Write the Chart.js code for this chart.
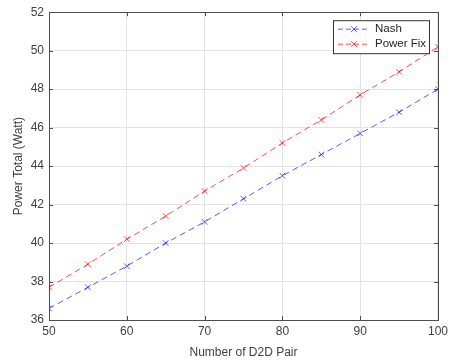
<!DOCTYPE html>
<html>
<head>
<meta charset="utf-8">
<script src="https://cdn.jsdelivr.net/npm/chart.js@4"></script>
<style>
  html, body { margin: 0; padding: 0; background: #fff; }
  #wrap { width: 452px; height: 360px; }
</style>
</head>
<body>
<div id="wrap"><canvas id="chart"></canvas></div>
<script>
// D2D pairs vs total power
const pairs = [50, 55, 60, 65, 70, 75, 80, 85, 90, 95, 100];
const nashPower = [36.6, 37.7, 38.8, 40.0, 41.1, 42.3, 43.5, 44.6, 45.7, 46.8, 48.0];
const fixPower = [37.7, 38.9, 40.2, 41.4, 42.7, 43.9, 45.2, 46.4, 47.7, 48.9, 50.2];
const seriesNames = ['Nash', 'Power Fix'];
const seriesColors = ['rgba(0,0,255,0.65)', 'rgba(255,0,0,0.7)'];

const FONT = 'Liberation Sans, Arial, sans-serif';
const AXIS_COLOR = '#4d4d4d';

// ticks pointing inward, matlab box style
const boxTicks = {
    id: 'boxTicks',
    afterDraw(chart) {
        const { ctx, chartArea: a, scales } = chart;
        ctx.save();
        ctx.strokeStyle = AXIS_COLOR;
        ctx.lineWidth = 1;
        ctx.beginPath();
        scales.x.ticks.forEach(t => {
            const px = Math.round(scales.x.getPixelForValue(t.value)) + 0.5;
            ctx.moveTo(px, a.bottom); ctx.lineTo(px, a.bottom - 4);
            ctx.moveTo(px, a.top); ctx.lineTo(px, a.top + 4);
        });
        scales.y.ticks.forEach(t => {
            const py = Math.round(scales.y.getPixelForValue(t.value)) + 0.5;
            ctx.moveTo(a.left, py); ctx.lineTo(a.left + 4, py);
            ctx.moveTo(a.right, py); ctx.lineTo(a.right - 4, py);
        });
        ctx.stroke();
        ctx.strokeRect(Math.round(a.left) + 0.5, Math.round(a.top) + 0.5,
            Math.round(a.right - a.left), Math.round(a.bottom - a.top));
        ctx.restore();
    }
};

// legend box in the top right corner
const boxLegend = {
    id: 'boxLegend',
    afterDraw(chart) {
        const { ctx, chartArea: a } = chart;
        const w = 96, h = 33;
        const x = a.right - 105, y = a.top + 8;
        ctx.save();
        ctx.fillStyle = '#fff';
        ctx.fillRect(x, y, w, h);
        ctx.strokeStyle = '#333';
        ctx.lineWidth = 1;
        ctx.strokeRect(x + 0.5, y + 0.5, w, h);
        ctx.font = '11.5px ' + FONT;
        ctx.textBaseline = 'middle';
        chart.data.datasets.forEach((ds, i) => {
            const cy = y + 9 + i * 15;
            ctx.strokeStyle = ds.borderColor;
            ctx.setLineDash([5, 3]);
            ctx.beginPath();
            ctx.moveTo(x + 5, cy); ctx.lineTo(x + 37, cy);
            ctx.stroke();
            ctx.setLineDash([]);
            ctx.beginPath();
            ctx.moveTo(x + 18, cy - 3); ctx.lineTo(x + 24, cy + 3);
            ctx.moveTo(x + 18, cy + 3); ctx.lineTo(x + 24, cy - 3);
            ctx.stroke();
            ctx.fillStyle = '#262626';
            ctx.fillText(ds.label, x + 42, cy);
        });
        ctx.restore();
    }
};

function makeSet(label, values, color) {
    return {
        label: label,
        data: pairs.map((p, i) => ({ x: p, y: values[i] })),
        borderColor: color,
        backgroundColor: color,
        borderWidth: 1,
        borderDash: [6, 4],
        pointStyle: 'crossRot',
        pointRadius: 4,
        pointBorderWidth: 1,
        tension: 0
    };
}

new Chart(document.getElementById('chart'), {
    type: 'line',
    data: {
        datasets: [
            makeSet(seriesNames[0], nashPower, seriesColors[0]),
            makeSet(seriesNames[1], fixPower, seriesColors[1])
        ]
    },
    options: {
        responsive: true,
        maintainAspectRatio: false,
        animation: false,
        layout: { padding: { left: 11, right: 8, top: 12, bottom: 0 } },
        plugins: {
            legend: { display: false },
            tooltip: { enabled: false }
        },
        scales: {
            x: {
                type: 'linear',
                min: 50, max: 100,
                ticks: { stepSize: 10, color: '#404040', font: { family: FONT, size: 12 }, padding: 4, maxRotation: 0 },
                grid: { color: '#e3e3e3', drawTicks: false },
                border: { display: false },
                title: { display: true, text: 'Number of D2D Pair', color: '#404040', font: { family: FONT, size: 12 }, padding: { top: 4, bottom: 0 } },
                afterFit(scale) { scale.height = 40; }
            },
            y: {
                min: 36, max: 52,
                ticks: { stepSize: 2, color: '#404040', font: { family: FONT, size: 12 }, padding: 5 },
                grid: { color: '#e3e3e3', drawTicks: false },
                border: { display: false },
                title: { display: true, text: 'Power Total (Watt)', color: '#404040', font: { family: FONT, size: 12 }, padding: { top: 0, bottom: 4 } },
                afterFit(scale) { scale.width = 38; }
            }
        }
    },
    plugins: [boxTicks, boxLegend]
});
</script>
</body>
</html>
